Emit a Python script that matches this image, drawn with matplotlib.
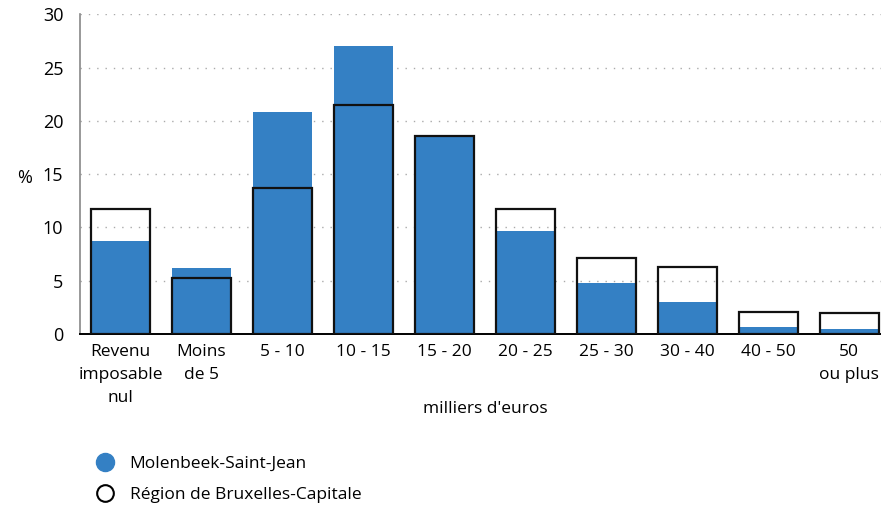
import numpy as np
import matplotlib
matplotlib.use("Agg")
import matplotlib.pyplot as plt
from matplotlib.lines import Line2D

plt.rcParams['font.family'] = ['Open Sans', 'DejaVu Sans']

# Distribution of taxable income per declaration (%)
categories = ["Revenu\nimposable\nnul", "Moins\nde 5", "5 - 10", "10 - 15", "15 - 20",
              "20 - 25", "25 - 30", "30 - 40", "40 - 50", "50\nou plus"]
molenbeek = [8.7, 6.2, 20.8, 27.0, 18.6, 9.7, 4.8, 3.0, 0.7, 0.5]
bruxelles = [11.7, 5.3, 13.7, 21.5, 18.6, 11.7, 7.1, 6.3, 2.1, 2.0]

blue = '#3480c4'

fig = plt.figure(figsize=(8.81, 5.07), dpi=100)
ax = fig.add_axes([0.0908, 0.341, 0.909, 0.631])

x = np.arange(len(categories))
w = 0.73
ax.bar(x, molenbeek, width=w, color=blue, zorder=2)
ax.bar(x, bruxelles, width=w, facecolor='none', edgecolor='#111111', linewidth=1.6, zorder=3)

ax.set_xlim(-0.5, 9.39)
ax.set_ylim(0, 30)
ax.set_yticks(range(0, 31, 5))
ax.set_xticks(x)
ax.set_xticklabels(categories, fontsize=12.5, linespacing=1.6)
ax.tick_params(axis='y', length=0, pad=12, labelsize=13)
ax.tick_params(axis='x', length=0, pad=7)
ax.yaxis.grid(True, linestyle=(0, (1, 5)), color='#aaaaaa', linewidth=1)
ax.set_axisbelow(True)

for s in ['top', 'right']:
    ax.spines[s].set_visible(False)
ax.spines['left'].set_color('#888888')
ax.spines['left'].set_linewidth(1.2)
ax.spines['bottom'].set_color('black')
ax.spines['bottom'].set_linewidth(1.4)

fig.text(25 / 881, 1 - 178 / 507, '%', fontsize=13, ha='center', va='center')
fig.text(485 / 881, 1 - 409 / 507, "milliers d'euros", fontsize=12.5, ha='center', va='center')

handles = [
    Line2D([], [], marker='o', linestyle='none', markersize=13, markerfacecolor=blue, markeredgecolor=blue),
    Line2D([], [], marker='o', linestyle='none', markersize=12, markerfacecolor='white', markeredgecolor='black', markeredgewidth=1.5),
]
fig.legend(handles, ['Molenbeek-Saint-Jean', 'Région de Bruxelles-Capitale'],
           loc='upper left', bbox_to_anchor=(88 / 881, 1 - 456 / 507), frameon=False,
           fontsize=12.5, handletextpad=0.4, labelspacing=0.85, borderaxespad=0, borderpad=0)

fig.savefig('out.png', dpi=100)
